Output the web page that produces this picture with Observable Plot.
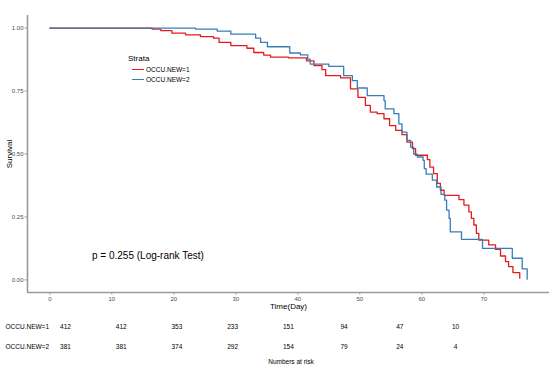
<!DOCTYPE html>
<html>
<head>
<meta charset="utf-8">
<script src="https://cdn.jsdelivr.net/npm/d3@7"></script>
<script src="https://cdn.jsdelivr.net/npm/@observablehq/plot@0.6"></script>
<style>
  body { margin: 0; background: #fff; font-family: "Liberation Sans", Arial, sans-serif; }
  #wrap { position: relative; width: 554px; height: 368px; }
  #wrap svg { display: block; font-family: "Liberation Sans", Arial, sans-serif; }
  g[aria-label="y-axis tick label"] text, g[aria-label="x-axis tick label"] text { fill: #4d4d4d; }
  g[aria-label="x-axis label"] text, g[aria-label="y-axis label"] text { font-size: 8px; fill: #000; }
  .ov { position: absolute; white-space: nowrap; color: #000; }
  .legend-title { left: 128px; top: 54px; font-size: 8px; }
  .legend-item { left: 132px; font-size: 6.5px; display: flex; align-items: center; }
  .legend-item span.sw { display: inline-block; width: 12px; height: 1.4px; margin-right: 2px; }
  .pval { left: 92px; top: 250px; font-size: 10px; }
  .risk-title { left: 0; width: 582px; text-align: center; top: 358px; font-size: 6.5px; }
</style>
</head>
<body>
<div id="wrap"></div>
<script>
// ---- Data ----
const strata = ["OCCU.NEW=1", "OCCU.NEW=2"];
const colors = ["#E41A1C", "#377EB8"];

const time1 = [0, 16.5, 17.9, 19.7, 21.9, 24.3, 26.4, 27.3, 29.2, 31.8, 32.9, 34.5, 35.6, 38.5, 41.4, 42.6, 43.9, 44.5, 46.9, 48.5, 49.7, 50.9, 51.7, 52.8, 53.9, 54.8, 55.8, 56.8, 57.6, 58.5, 59, 60.9, 61.3, 61.9, 62.5, 63, 63.6, 66, 66.8, 67.6, 68, 68.4, 68.8, 69.2, 70.8, 71.9, 72.7, 73.5, 74, 74.7, 75.8];
const surv1 = [1, 0.996, 0.99, 0.98, 0.973, 0.966, 0.96, 0.943, 0.93, 0.92, 0.903, 0.893, 0.885, 0.882, 0.87, 0.851, 0.835, 0.811, 0.802, 0.759, 0.725, 0.693, 0.666, 0.66, 0.64, 0.613, 0.594, 0.577, 0.547, 0.521, 0.495, 0.478, 0.448, 0.422, 0.383, 0.356, 0.336, 0.319, 0.297, 0.27, 0.244, 0.218, 0.185, 0.158, 0.139, 0.121, 0.095, 0.073, 0.053, 0.029, 0.007];

const time2 = [0, 23.5, 27, 29.2, 33.2, 34, 35.1, 38.7, 40.4, 41.6, 42, 45, 47.4, 48.8, 49.6, 51.2, 53.9, 54.1, 55.5, 56.3, 56.8, 57.6, 58.2, 58.7, 59.3, 60.2, 60.4, 60.7, 61.7, 62.4, 63.1, 63.7, 64, 64.4, 64.6, 66.4, 69.8, 74.6, 76.2, 77];
const surv2 = [1, 0.996, 0.988, 0.976, 0.96, 0.943, 0.926, 0.901, 0.894, 0.877, 0.857, 0.848, 0.811, 0.791, 0.762, 0.732, 0.712, 0.679, 0.66, 0.62, 0.587, 0.554, 0.527, 0.499, 0.488, 0.475, 0.442, 0.42, 0.396, 0.369, 0.34, 0.317, 0.277, 0.244, 0.191, 0.161, 0.125, 0.086, 0.044, 0.003];

const xTicks = [0, 10, 20, 30, 40, 50, 60, 70];
const yTicks = [0, 0.25, 0.5, 0.75, 1];
const riskTimes = [0, 10, 20, 30, 40, 50, 60, 70];
const risk1 = [412, 412, 353, 233, 151, 94, 47, 10];
const risk2 = [381, 381, 374, 292, 154, 79, 24, 4];
const pText = "p = 0.255 (Log-rank Test)";

// ---- Build tables ----
const curve = [
  ...time1.map((t, i) => ({strata: strata[0], time: t, surv: surv1[i]})),
  ...time2.map((t, i) => ({strata: strata[1], time: t, surv: surv2[i]}))
];
const risk = [
  ...riskTimes.map((t, i) => ({strata: strata[0], time: t, n: risk1[i]})),
  ...riskTimes.map((t, i) => ({strata: strata[1], time: t, n: risk2[i]}))
];

const xDomain = [-3.6, 80.6];
const yDomain = [-0.05, 1.05];
const axisGrey = "#9a9a9a";

const main = Plot.plot({
  width: 554,
  height: 312,
  marginLeft: 27,
  marginRight: 5,
  marginTop: 15,
  marginBottom: 20,
  x: {domain: xDomain},
  y: {domain: yDomain},
  color: {domain: strata, range: colors},
  marks: [
    Plot.ruleX([xDomain[0]], {stroke: axisGrey, strokeWidth: 1.6}),
    Plot.ruleY([yDomain[0]], {stroke: axisGrey, strokeWidth: 1.6}),
    Plot.axisY({ticks: yTicks, tickFormat: d3.format(".2f"), tickSize: 2.5, tickPadding: 1.5, fontSize: 6, stroke: axisGrey,
      label: "Survival", labelAnchor: "center", labelOffset: 21, labelArrow: "none"}),
    Plot.axisX({ticks: xTicks, tickSize: 2.5, tickPadding: 2, fontSize: 6, stroke: axisGrey,
      label: "Time(Day)", labelAnchor: "center", labelOffset: 16, labelArrow: "none"}),
    Plot.line(curve, {x: "time", y: "surv", z: "strata", stroke: "strata", curve: "step-after", strokeWidth: 1.3})
  ]
});

const table = Plot.plot({
  width: 554,
  height: 56,
  marginLeft: 5,
  marginRight: 0,
  marginTop: 0,
  marginBottom: 0,
  x: {domain: [0, 70], range: [65, 455], axis: null},
  y: {domain: strata, type: "point", range: [14, 34], padding: 0, axis: null},
  marks: [
    Plot.text(strata, {y: d => d, text: d => d, frameAnchor: "left", textAnchor: "start", fontSize: 6.5, fill: "#000"}),
    Plot.text(risk, {x: "time", y: "strata", text: "n", fontSize: 6.5, fill: "#000"})
  ]
});

const wrap = document.getElementById("wrap");
wrap.appendChild(main);
wrap.appendChild(table);

// Legend (strata)
const lt = document.createElement("div");
lt.className = "ov legend-title";
lt.textContent = "Strata";
wrap.appendChild(lt);
strata.forEach((s, i) => {
  const it = document.createElement("div");
  it.className = "ov legend-item";
  it.style.top = (66 + i * 10) + "px";
  const sw = document.createElement("span");
  sw.className = "sw";
  sw.style.background = colors[i];
  it.appendChild(sw);
  it.appendChild(document.createTextNode(s));
  wrap.appendChild(it);
});

const p = document.createElement("div");
p.className = "ov pval";
p.textContent = pText;
wrap.appendChild(p);

const rt = document.createElement("div");
rt.className = "ov risk-title";
rt.textContent = "Numbers at risk";
wrap.appendChild(rt);
</script>
</body>
</html>
